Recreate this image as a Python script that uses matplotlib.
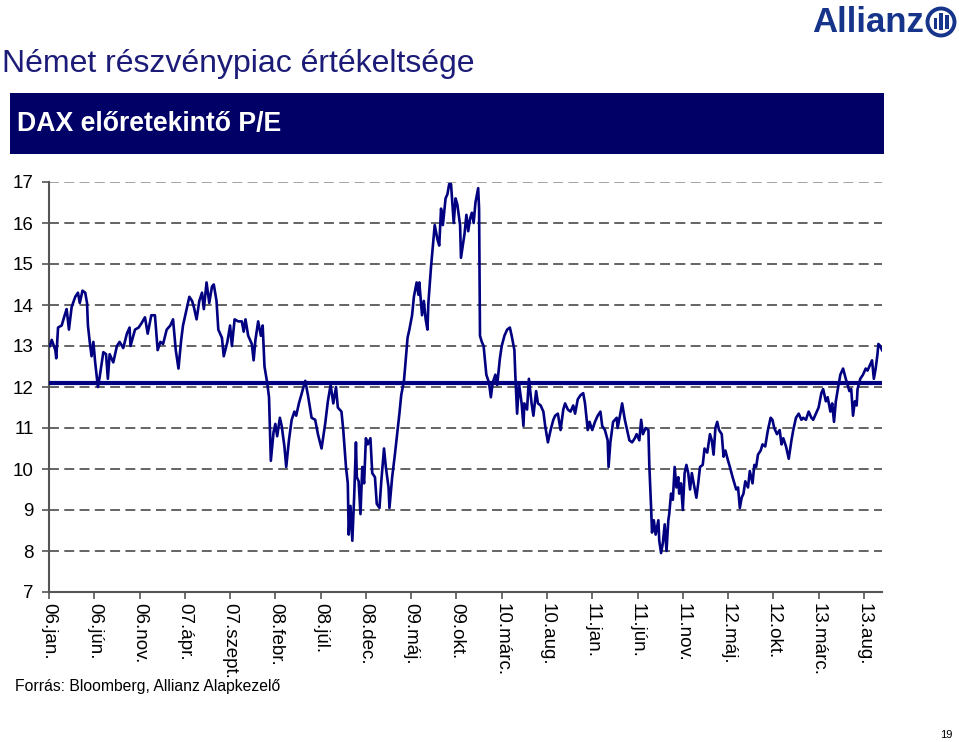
import matplotlib
matplotlib.use("Agg")
import matplotlib.pyplot as plt
from matplotlib.patches import Rectangle, Circle

plt.rcParams['font.family'] = ['Liberation Sans', 'DejaVu Sans']

# months since 2006 jan
months = [
    0.1, 0.3, 0.7, 0.8, 1.0, 1.4, 1.8, 1.95, 2.2, 2.5, 2.9, 3.2, 3.4, 3.7, 4.0, 4.2, 4.3, 4.5, 4.7, 4.9,
    5.1, 5.4, 5.6, 6.0, 6.3, 6.5, 6.7, 7.1, 7.5, 7.8, 8.2, 8.6, 8.9, 9.0, 9.5, 9.9, 10.2, 10.6, 10.9, 11.3,
    11.7, 12.0, 12.3, 12.6, 13.0, 13.4, 13.7, 14.0, 14.3, 14.6, 14.8, 15.2, 15.5, 15.8, 16.0, 16.3, 16.6, 16.9, 17.1, 17.4,
    17.7, 18.0, 18.2, 18.5, 18.7, 19.1, 19.3, 19.7, 20.0, 20.2, 20.5, 20.9, 21.3, 21.5, 21.7, 22.0, 22.4, 22.6, 22.8, 23.1,
    23.4, 23.6, 23.8, 24.1, 24.3, 24.4, 24.5, 24.8, 25.0, 25.2, 25.5, 25.7, 26.0, 26.2, 26.5, 26.8, 27.1, 27.3, 27.6,
    28.3, 28.6, 29.0, 29.4, 29.7, 30.1, 30.5, 30.8, 31.1, 31.4, 31.7, 31.9, 32.3, 32.5, 32.8, 33.0, 33.1, 33.3, 33.5, 33.7,
    33.9, 34.0, 34.2, 34.4, 34.6, 34.8, 35.0, 35.2, 35.5, 35.7, 36.0, 36.2, 36.5, 36.7, 37.0, 37.2, 37.5, 37.6, 37.9, 38.2,
    38.4, 38.7, 38.9, 39.2,
    39.3, 39.6, 39.8, 40.1, 40.3, 40.6, 40.8, 40.9, 41.2, 41.4, 41.6, 41.8, 41.9, 42.2, 42.4, 42.6, 42.9, 43.1, 43.3, 43.5,
    43.8, 44.0, 44.2, 44.4, 44.7, 44.9, 45.1, 45.4, 45.5, 45.7, 45.9, 46.1, 46.3, 46.5, 46.7, 46.9, 47.1, 47.4, 47.5, 47.6,
    47.8, 48.0, 48.3, 48.6, 48.8, 49.0, 49.3, 49.5, 49.8, 50.0, 50.3, 50.6, 50.9, 51.1, 51.4, 51.5, 51.7, 51.9, 52.2, 52.4,
    52.5, 52.8, 53.0, 53.3, 53.5, 53.8, 54.0, 54.3, 54.6, 54.8, 55.1, 55.4, 55.7, 55.9, 56.2, 56.5, 56.8, 57.0, 57.3, 57.6,
    57.9, 58.1, 58.4, 58.7, 59.0, 59.2, 59.5, 59.7, 60.0, 60.3, 60.6, 60.9, 61.1, 61.4, 61.7, 61.8, 62.0, 62.3,
    62.7, 62.8, 63.1, 63.3, 63.6, 63.8, 64.1, 64.4, 64.7, 64.9, 65.2, 65.4, 65.6, 65.9, 66.2, 66.3, 66.5, 66.6, 66.8, 67.0,
    67.3, 67.4, 67.6, 67.8, 68.0, 68.2, 68.4, 68.5, 68.7, 68.9, 69.1, 69.3, 69.5, 69.6, 69.8, 70.0, 70.2, 70.4, 70.6, 70.8,
    71.0, 71.2, 71.5, 71.7, 71.9, 72.2, 72.4, 72.7, 73.0, 73.2, 73.4, 73.6, 73.8, 74.0, 74.3, 74.5, 74.7, 75.0, 75.2, 75.5,
    75.7, 75.9, 76.1, 76.3, 76.5, 76.7, 76.9, 77.2, 77.4, 77.7, 77.9, 78.1, 78.3, 78.6, 78.8, 79.1, 79.4, 79.7, 79.9, 80.1,
    80.4, 80.7, 80.9, 81.1, 81.4, 81.7, 82.0, 82.2, 82.5, 82.8, 83.1, 83.3, 83.6, 83.9, 84.2, 84.4, 84.7, 85.0, 85.3, 85.5,
    85.8, 86.0, 86.3, 86.5, 86.7, 86.9, 87.2, 87.4, 87.7, 88.0, 88.2, 88.4, 88.6, 88.8, 89.0, 89.2, 89.3, 89.6, 89.9, 90.2,
    90.4, 90.7, 90.9, 91.1, 91.3, 91.5, 91.6, 91.8, 92.0,
]
pe = [
    13.0, 13.15, 12.9, 12.7, 13.45, 13.5, 13.8, 13.9, 13.4, 13.95, 14.2, 14.3, 14.05, 14.35, 14.3, 14.05, 13.5, 13.1, 12.75, 13.1,
    12.6, 12.0, 12.25, 12.85, 12.8, 12.2, 12.8, 12.6, 13.0, 13.1, 12.95, 13.3, 13.45, 13.0, 13.4, 13.45, 13.55, 13.7, 13.3, 13.75,
    13.75, 12.9, 13.1, 13.05, 13.4, 13.5, 13.65, 12.9, 12.45, 13.15, 13.5, 13.9, 14.2, 14.1, 13.95, 13.65, 14.1, 14.3, 13.9, 14.55,
    14.05, 14.45, 14.5, 14.1, 13.4, 13.2, 12.75, 13.1, 13.5, 13.0, 13.65, 13.6, 13.6, 13.35, 13.65, 13.25, 13.05, 12.65, 13.15, 13.6,
    13.25, 13.5, 12.5, 12.1, 11.75, 10.95, 10.2, 10.9, 11.1, 10.8, 11.25, 11.05, 10.55, 10.05, 10.7, 11.2, 11.4, 11.3, 11.6,
    12.15, 11.8, 11.25, 11.2, 10.85, 10.5, 11.1, 11.65, 12.05, 11.6, 12.0, 11.5, 11.4, 10.95, 10.05, 9.65, 8.4, 9.1, 8.25, 9.3,
    10.65, 9.8, 9.7, 8.9, 10.05, 9.65, 10.75, 10.6, 10.75, 9.9, 9.8, 9.15, 9.05, 9.7, 10.5, 10.05, 9.55, 9.05, 9.8, 10.35,
    10.75, 11.35, 11.8, 12.15,
    12.4, 13.2, 13.4, 13.75, 14.2, 14.55, 14.25, 14.55, 13.75, 14.1, 13.65, 13.4, 14.05, 14.95, 15.45, 15.95, 15.6, 15.45, 16.35, 15.95,
    16.6, 16.7, 16.95, 16.95, 16.0, 16.6, 16.45, 15.95, 15.15, 15.45, 15.75, 16.2, 15.8, 16.1, 16.25, 16.0, 16.5, 16.85, 16.35, 13.25,
    13.1, 13.0, 12.3, 12.1, 11.75, 12.1, 12.3, 12.05, 12.7, 13.0, 13.25, 13.4, 13.45, 13.25, 12.9, 12.3, 11.35, 12.1, 11.6, 11.05,
    11.6, 11.45, 12.2, 11.6, 11.3, 11.9, 11.6, 11.55, 11.4, 11.05, 10.65, 10.95, 11.2, 11.3, 11.35, 10.95, 11.45, 11.6, 11.45, 11.4,
    11.55, 11.35, 11.7, 11.8, 11.85, 11.6, 10.95, 11.15, 10.95, 11.15, 11.3, 11.4, 11.05, 10.95, 10.7, 10.05, 10.65, 11.15,
    11.25, 11.0, 11.35, 11.6, 11.2, 11.0, 10.7, 10.65, 10.75, 10.85, 10.7, 11.2, 10.85, 11.0, 10.95, 10.1, 9.05, 8.45, 8.75, 8.4,
    8.75, 8.25, 7.95, 8.2, 8.65, 8.0, 8.75, 8.9, 9.4, 9.25, 10.05, 9.55, 9.8, 9.4, 9.65, 9.0, 9.9, 10.1, 9.9, 9.5,
    9.9, 9.65, 9.3, 9.65, 10.05, 10.1, 10.5, 10.4, 10.85, 10.7, 10.35, 11.0, 11.15, 10.95, 10.85, 10.3, 10.45, 10.2, 10.05, 9.8,
    9.65, 9.5, 9.55, 9.05, 9.3, 9.4, 9.7, 9.55, 9.95, 9.65, 10.1, 10.05, 10.35, 10.45, 10.6, 10.55, 10.95, 11.25, 11.2, 11.0,
    10.85, 10.95, 10.6, 10.75, 10.55, 10.25, 10.7, 10.95, 11.25, 11.35, 11.2, 11.25, 11.2, 11.4, 11.25, 11.2, 11.35, 11.5, 11.85, 11.95,
    11.65, 11.75, 11.4, 11.6, 11.15, 11.65, 12.05, 12.3, 12.45, 12.2, 12.05, 11.9, 11.95, 11.3, 11.65, 11.55, 11.95, 12.2, 12.3, 12.45,
    12.4, 12.55, 12.65, 12.2, 12.45, 12.8, 13.05, 13.0, 12.9,
]
average_pe = 12.09

tick_months = list(range(0, 91, 5))
tick_labels = ['06.jan.', '06.jún.', '06.nov.', '07.ápr.', '07.szept.', '08.febr.', '08.júl.',
               '08.dec.', '09.máj.', '09.okt.', '10.márc.', '10.aug.', '11.jan.', '11.jún.',
               '11.nov.', '12.máj.', '12.okt.', '13.márc.', '13.aug.']

W, H = 959, 742
fig = plt.figure(figsize=(W / 100, H / 100), dpi=100)

# page decoration drawn in pixel coordinates
bg = fig.add_axes([0, 0, 1, 1], zorder=0)
bg.set_xlim(0, W)
bg.set_ylim(H, 0)
bg.axis('off')

bg.text(2, 64, 'Német részvénypiac értékeltsége', fontsize=23, color='#1c1c78',
        va='center', ha='left')
bg.add_patch(Rectangle((10, 93), 874, 61, color='#000066', lw=0))
bg.text(17, 124, 'DAX előretekintő P/E', fontsize=19.2, color='white', fontweight='bold',
        va='center', ha='left')
bg.text(15, 686, 'Forrás: Bloomberg, Allianz Alapkezelő', fontsize=11.3, color='black',
        va='center', ha='left')
bg.text(952, 735, '19', fontsize=8, color='black', va='center', ha='right')

# logo
bg.text(924, 22, 'Allianz', fontsize=25, fontweight='heavy', color='#16358a',
        va='center', ha='right')
bg.add_patch(Circle((941, 22), 13.5, fill=False, lw=2.8, color='#16358a'))
bg.add_patch(Rectangle((933.5, 18), 3.2, 11, color='#16358a', lw=0))
bg.add_patch(Rectangle((939.3, 13), 3.4, 17, color='#16358a', lw=0))
bg.add_patch(Rectangle((945.3, 15), 3.2, 14, color='#16358a', lw=0))

# main chart
ax = fig.add_axes([49 / W, 1 - 592 / H, 833 / W, 410 / H], zorder=1)
ax.patch.set_alpha(0)

ax.axhline(average_pe, color='#000080', lw=3.0, zorder=3)
ax.plot(months, pe, color='#000080', lw=1.9, zorder=4)

ax.set_xlim(0, 92)
ax.set_ylim(7, 17)
ax.set_yticks(range(7, 18))
ax.set_xticks(tick_months)
ax.set_xticklabels(tick_labels, rotation=270, fontsize=13.5)
ax.tick_params(axis='y', labelsize=13.5, length=5, width=1.2, color='#555555', pad=6)
ax.tick_params(axis='x', length=5, width=1.2, color='#555555', pad=3)

for lvl in range(8, 18):
    ax.axhline(lvl, color='#8a8a8a' if lvl == 17 else '#3a3a3a', lw=1.1,
               dashes=(6.5, 3.5), zorder=2)

for side in ['top', 'right']:
    ax.spines[side].set_visible(False)
for side in ['left', 'bottom']:
    ax.spines[side].set_color('#555555')
    ax.spines[side].set_linewidth(1.5)

fig.savefig('out.png', dpi=100)
